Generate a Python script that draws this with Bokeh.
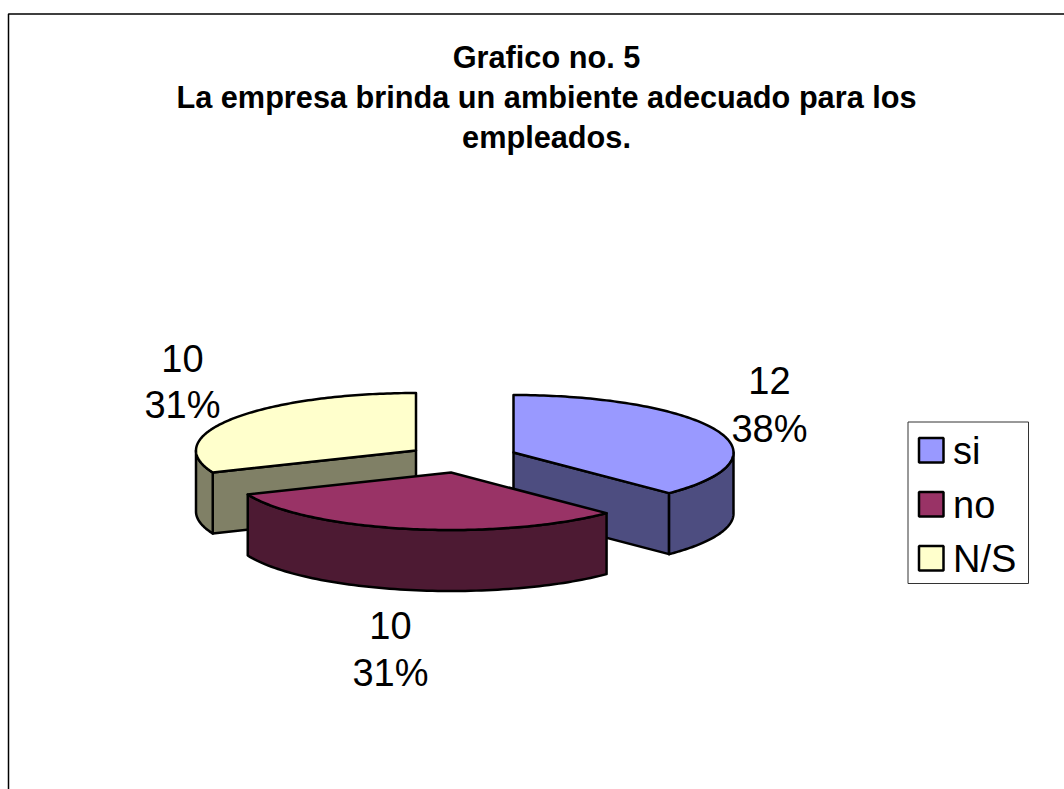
import numpy as np
from bokeh.plotting import figure
from bokeh.models import Range1d
from bokeh.core.properties import value
from bokeh.embed import file_html
from bokeh.resources import INLINE

# data
categories = ["si", "no", "N/S"]
counts = [12, 10, 10]
title_lines = ["Grafico no. 5", "La empresa brinda un ambiente adecuado para los", "empleados."]

# styles
top_colors = ["#9999FF", "#993366", "#FFFFCC"]
side_colors = ["#4D4D80", "#4D1A33", "#808066"]
FONT = "Liberation Sans"
W, H = 1064, 789
RX, RY, DEPTH = 220.0, 57.5, 61.0
centers = [(513.0, 452.0), (450.5, 472.0), (415.5, 450.0)]   # exploded slice apexes
label_pos = [(769, 380, 428), (390, 625, 672), (182, 358, 404)]
OUT = 2.5

p = figure(width=W, height=H, output_backend="svg", toolbar_location=None,
           x_range=Range1d(0, W), y_range=Range1d(H, 0), min_border=0,
           x_axis_location=None, y_axis_location=None,
           styles={"position": "absolute", "left": "0px", "top": "0px"})
p.grid.visible = False
p.outline_line_color = None
p.background_fill_color = "#FFFFFF"

def pt(c, deg):
    t = np.radians(deg)
    return c[0] + RX * np.sin(t), c[1] - RY * np.cos(t)

def fill(xs, ys, color):
    p.patch(list(xs), list(ys), fill_color=color, line_color="#000000", line_width=OUT, line_join="round")

total = sum(counts)
edges = np.concatenate([[0.0], np.cumsum(counts) / total * 360.0])
slices = [(edges[i], edges[i + 1], i) for i in range(len(counts))]

for a, b, i in [slices[2], slices[0], slices[1]]:
    c = centers[i]
    for ang, flag in ((a, np.sin(np.radians(a)) < -1e-6), (b, np.sin(np.radians(b)) > 1e-6)):
        if flag:
            ex, ey = pt(c, ang)
            fill([c[0], ex, ex, c[0]], [c[1], ey, ey + DEPTH, c[1] + DEPTH], side_colors[i])
    lo, hi = max(a, 90.0), min(b, 270.0)
    if hi > lo:
        th = np.linspace(lo, hi, 80)
        ax, ay = pt(c, th)
        fill(np.r_[ax, ax[::-1]], np.r_[ay, ay[::-1] + DEPTH], side_colors[i])
    th = np.linspace(a, b, 120)
    ax, ay = pt(c, th)
    fill(np.r_[c[0], ax], np.r_[c[1], ay], top_colors[i])

# labels
for i, (lx, y1, y2) in enumerate(label_pos):
    p.text([lx], [y1], text=[str(counts[i])], text_font=value(FONT), text_font_size="38px",
           text_align="center", text_baseline="middle", text_color="#000000")
    p.text([lx], [y2], text=[f"{round(counts[i] / total * 100)}%"], text_font=value(FONT), text_font_size="38px",
           text_align="center", text_baseline="middle", text_color="#000000")

# title
for line, y in zip(title_lines, [57, 97, 137]):
    p.text([546], [y], text=[line], text_font=value(FONT), text_font_size="30.7px", text_font_style="bold",
           text_align="center", text_baseline="middle", text_color="#000000")

# frame (cut by the page edge at right and bottom)
p.line([8, 8, W], [H, 13.5, 13.5], line_color="#000000", line_width=1.5)

# legend
p.quad(left=[907.5], right=[1028], top=[421.5], bottom=[583], fill_color="#FFFFFF", line_color="#333333", line_width=1)
for i, (name, y) in enumerate(zip(categories, [450, 504, 558])):
    p.quad(left=[918.5], right=[943], top=[y - 12.5], bottom=[y + 12], fill_color=top_colors[i],
           line_color="#000000", line_width=2.5)
    p.text([952.5], [y], text=[name], text_font=value(FONT), text_font_size="38px",
           text_align="left", text_baseline="middle", text_color="#000000")

open("out.html", "w").write(file_html(p, INLINE))
